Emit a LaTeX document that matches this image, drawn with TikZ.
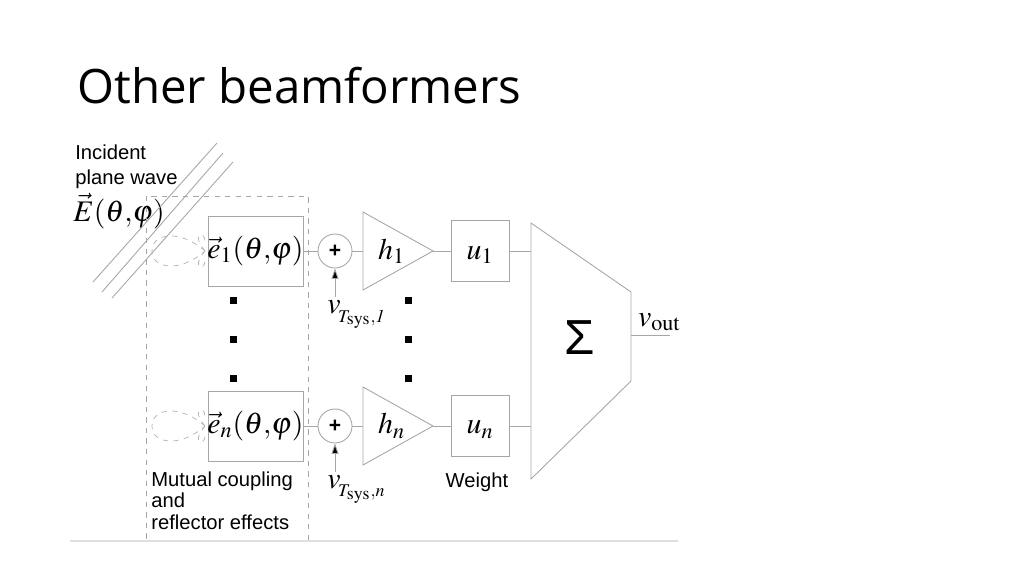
\documentclass[tikz,border=0pt]{standalone}
\usepackage{fontspec}
\usepackage{mathptmx}
\setmainfont{Liberation Serif}
\newfontfamily\titlefont{Open Sans}
\newfontfamily\labelfont{Liberation Sans}
\usetikzlibrary{arrows.meta,positioning}

\begin{document}
\begin{tikzpicture}[x=0.02cm,y=-0.02cm,
    line/.style={gray!70,line width=0.5pt},
    blk/.style={draw=gray!70,line width=0.5pt,minimum width=1.9cm,minimum height=1.4cm},
    wbox/.style={draw=gray!70,line width=0.5pt,minimum width=1.16cm,minimum height=1.22cm},
    adder/.style={circle,draw=gray!70,line width=0.5pt,minimum size=0.68cm,inner sep=0pt,font=\labelfont\bfseries\large},
    lbl/.style={font=\labelfont\fontsize{11.5}{12.5}\selectfont,align=left,anchor=north west,inner sep=0pt},
    sym/.style={font=\fontsize{17}{19}\selectfont},
    dot/.style={fill=black,minimum size=0.14cm,inner sep=0pt}]
  \useasboundingbox (0,0) rectangle (1024,575);

  % title
  \node[anchor=west,font=\titlefont\fontsize{27}{30}\selectfont,inner sep=0pt] (title) at (77,86) {Other beamformers};

  % incident wave
  \node[lbl] (inc) at (75,145) {Incident\\[1.5pt]plane wave};
  \node[anchor=west,inner sep=0pt,sym] (efield) at (73,211) {$\vec{E}(\theta{,}\varphi)$};
  \foreach \a/\b/\c/\d in {217/143/93/282, 223/153/102/292, 233/162/112/298}
    \draw[line] (\a,\b) -- (\c,\d);

  % mutual coupling region
  \draw[gray!70,dashed,line width=0.5pt] (146,196) rectangle (308,540);
  \node[lbl] (mutual) at (151,471) {Mutual coupling\\and\\reflector effects};

  % element boxes
  \node[blk] (e1) at (255.5,251) {};
  \node[sym] at (e1) {$\vec{e}_{\scriptstyle 1}(\theta{,}\varphi)$};
  \node[blk] (en) at (255.5,426) {};
  \node[sym] at (en) {$\vec{e}_{\scriptstyle n}(\theta{,}\varphi)$};

  % element patterns
  \foreach \y in {251,426} {
    \draw[gray!60,dashed,line width=0.4pt] (205,\y) .. controls (180,\y-22) and (152,\y-18) .. (152,\y)
      .. controls (152,\y+18) and (180,\y+22) .. (205,\y);
    \draw[gray!60,dashed,line width=0.4pt] (205,\y) .. controls (190,\y-18) and (205,\y-20) .. (205,\y-10);
    \draw[gray!60,dashed,line width=0.4pt] (205,\y) .. controls (190,\y+18) and (205,\y+20) .. (205,\y+10);
  }

  % adders and noise
  \node[adder] (s1) at (335,251) {+};
  \node[adder] (sn) at (335,426) {+};
  \coordinate (n1) at (335,297);
  \coordinate (nn) at (335,472);
  \draw[line,-{Triangle[length=6pt,width=4pt,fill=black]}] (n1) -- (s1);
  \draw[line,-{Triangle[length=6pt,width=4pt,fill=black]}] (nn) -- (sn);
  \node[anchor=north west,inner sep=0pt,sym] (v1) at (327,300) {$v_{\!_{T_{\mathrm{sys}},\mathit{1}}}$};
  \node[anchor=north west,inner sep=0pt,sym] (vn) at (327,475) {$v_{\!_{T_{\mathrm{sys}},n}}$};

  % amplifiers
  \foreach \i/\y in {1/251,n/426} {
    \coordinate (a\i in) at (363,\y);
    \coordinate (a\i out) at (433,\y);
    \draw[line] (363,\y-39) -- (433,\y) -- (363,\y+39) -- cycle;
    \node[sym,anchor=west] at (372,\y) {$h_{\scriptstyle \i}$};
  }

  % weights
  \node[wbox] (u1) at (480,251) {};
  \node[sym] at (u1) {$u_{\scriptstyle 1}$\vphantom{$h$}};
  \node[wbox] (un) at (480,426) {};
  \node[sym] at (un) {$u_{\scriptstyle n}$\vphantom{$h$}};
  \node[lbl,anchor=north] (weight) at (477,473) {Weight};

  % summer
  \coordinate (sum1) at (531,251);
  \coordinate (sumn) at (531,426);
  \coordinate (out) at (631,335);
  \coordinate (vout) at (670,335);
  \draw[line] (531,223) -- (631,292) -- (631,381) -- (531,479) -- cycle;
  \node[font=\labelfont\fontsize{28}{30}\selectfont] (sigma) at (580,338) {Σ};
  \node[anchor=south west,inner sep=1pt,sym] (voutlbl) at (636,333) {$v_{\mathrm{out}}$};

  % connections
  \foreach \i in {1,n} {
    \draw[line] (e\i) -- (s\i);
    \draw[line] (s\i) -- (a\i in);
    \draw[line] (a\i out) -- (u\i);
    \draw[line] (u\i) -- (sum\i);
  }
  \draw[line] (out) -- (vout);

  % dots
  \foreach \x in {233,408}
    \foreach \y in {300,339,378}
      \node[dot] at (\x,\y) {};

  % bottom rule
  \draw[gray!25,line width=1pt] (70,541) -- (678,541);
\end{tikzpicture}
\end{document}
